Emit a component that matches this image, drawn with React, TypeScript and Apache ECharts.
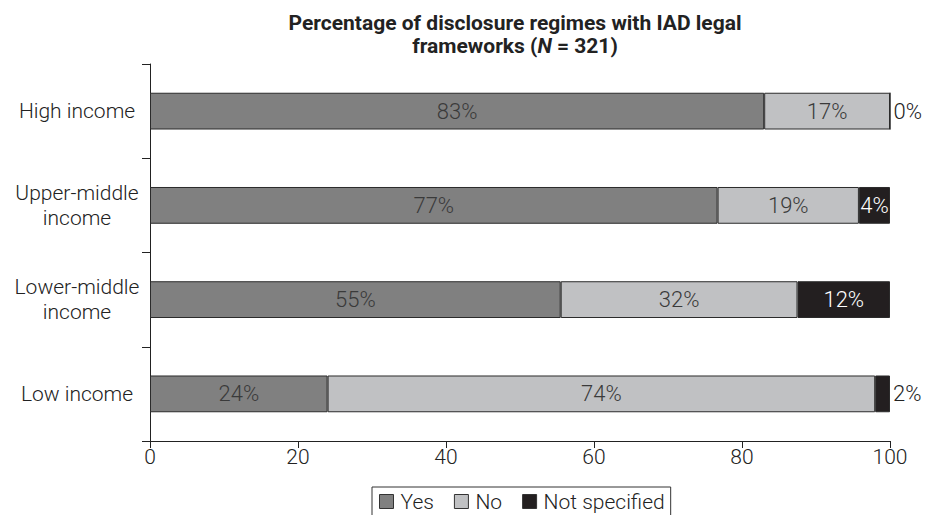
import React, { useEffect, useRef } from "react";
import * as echarts from "echarts";

const categories = ["High income", "Upper-middle\nincome", "Lower-middle\nincome", "Low income"];
const seriesNames = ["Yes", "No", "Not specified"];
const yesValues = [83, 76.7, 55.5, 24];
const noValues = [17, 19.1, 32, 74];
const notSpecValues = [0, 4.2, 12.5, 2];
const yesLabels = ["83%", "77%", "55%", "24%"];
const noLabels = ["17%", "19%", "32%", "74%"];
const notSpecLabels = ["0%", "4%", "12%", "2%"];
const xTicks = [0, 20, 40, 60, 80, 100];

const FONT = "Roboto, 'Liberation Sans', Arial, sans-serif";
const FS = 21;

export default function App() {
  const ref = useRef<HTMLDivElement>(null);
  useEffect(() => {
    if (!ref.current) return;
    const chart = echarts.init(ref.current, null, { renderer: "svg" });
    const colors = ["#808080", "#c0c1c3", "#231f20"];
    const mk = (vals: number[], labels: string[], idx: number) => ({
      name: seriesNames[idx],
      type: "bar",
      stack: "total",
      barWidth: "39%",
      itemStyle: { color: colors[idx], borderColor: "#2b2b2b", borderWidth: 1 },
      label: {
        show: true,
        position: "inside",
        color: "#3a3a3a",
        fontSize: 22,
        fontFamily: FONT,
        fontWeight: 300,
        formatter: (p: any) => labels[p.dataIndex],
      },
      data: vals.map((v) => {
        if (idx === 2) {
          const outside = v < 3;
          return {
            value: v,
            label: outside
              ? { position: "right", distance: 3, color: "#222" }
              : { position: "inside", color: "#ffffff" },
          };
        }
        return { value: v };
      }),
    });
    chart.setOption({
      animation: false,
      title: {
        text: "Percentage of disclosure regimes with IAD legal\nframeworks ({i|N} = 321)",
        left: 510,
        top: 6,
        textAlign: "center",
        textStyle: {
          fontFamily: FONT,
          fontSize: 21,
          fontWeight: "bold",
          color: "#222",
          lineHeight: 23,
          rich: {
            i: { fontFamily: FONT, fontSize: 21, fontWeight: "bold", fontStyle: "italic", color: "#222", lineHeight: 23 },
          },
        },
      },
      legend: {
        data: seriesNames,
        left: 372,
        top: 487,
        orient: "horizontal",
        icon: "rect",
        itemWidth: 14,
        itemHeight: 14,
        itemGap: 20,
        padding: [4, 6, 12, 7],
        borderColor: "#333",
        borderWidth: 1,
        textStyle: { fontFamily: FONT, fontSize: FS, fontWeight: 300, color: "#222", padding: [0, 0, 0, 2] },
        itemStyle: { borderColor: "#333", borderWidth: 1 },
      },
      grid: { left: 150, right: 38, top: 64, bottom: 74, containLabel: false },
      xAxis: {
        type: "value",
        min: xTicks[0],
        max: xTicks[xTicks.length - 1],
        interval: 20,
        axisLine: { show: true, lineStyle: { color: "#222", width: 1 } },
        axisTick: { show: true, length: 7, lineStyle: { color: "#222" } },
        splitLine: { show: false },
        axisLabel: { fontFamily: FONT, fontSize: FS, fontWeight: 300, color: "#222", margin: 5 },
      },
      yAxis: {
        type: "category",
        data: categories,
        inverse: true,
        axisLine: { show: true, lineStyle: { color: "#222", width: 1 } },
        axisTick: { show: true, length: 8, lineStyle: { color: "#222" } },
        axisLabel: {
          fontFamily: FONT,
          fontSize: FS,
          fontWeight: 300,
          color: "#222",
          align: "center",
          margin: 73,
          lineHeight: 25,
        },
      },
      series: [mk(yesValues, yesLabels, 0), mk(noValues, noLabels, 1), mk(notSpecValues, notSpecLabels, 2)],
    });
    return () => chart.dispose();
  }, []);
  return <div ref={ref} style={{ width: 928, height: 515, position: "absolute", left: 0, top: 0 }} />;
}
